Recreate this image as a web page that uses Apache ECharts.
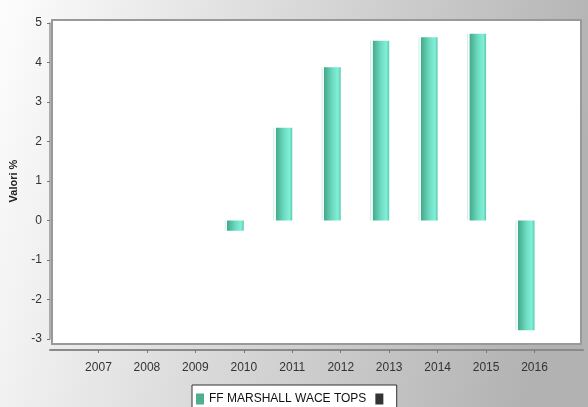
<!DOCTYPE html>
<html>
<head>
<meta charset="utf-8">
<script src="https://cdn.jsdelivr.net/npm/echarts@6/dist/echarts.min.js"></script>
<style>
  html, body { margin: 0; padding: 0; }
  #chart { width: 588px; height: 407px; }
</style>
</head>
<body>
<div id="chart"></div>
<script>
var years = ['2007', '2008', '2009', '2010', '2011', '2012', '2013', '2014', '2015', '2016'];
var values = ['-', '-', '-', -0.26, 2.35, 3.88, 4.55, 4.64, 4.73, -2.78];
var seriesName = 'FF MARSHALL WACE TOPS';
var yTicks = { min: -3, max: 5, step: 1 };

// pad one empty slot each side so the axis runs from "2006" to "2017"
var cats = [''].concat(years).concat(['']);
var barData = ['-'].concat(values).concat(['-']);
var emptyData = cats.map(function () { return '-'; });

function hideEnds(index) {
  return index > 0 && index < cats.length - 1;
}

var chart = echarts.init(document.getElementById('chart'));

var barColor = new echarts.graphic.LinearGradient(0, 0, 1, 0, [
  { offset: 0, color: '#b8e8da' },
  { offset: 0.06, color: '#f4fdfa' },
  { offset: 0.12, color: '#f4fdfa' },
  { offset: 0.14, color: '#45a98d' },
  { offset: 0.55, color: '#6cdabf' },
  { offset: 0.85, color: '#80f0d6' },
  { offset: 1, color: '#5ec9ae' }
]);

var option = {
  backgroundColor: new echarts.graphic.LinearGradient(0, 0, 1, 0.35, [
    { offset: 0, color: '#fdfdfd' },
    { offset: 1, color: '#b2b2b2' }
  ]),
  textStyle: { fontFamily: '"Liberation Sans", Arial, sans-serif' },
  animation: false,
  grid: [
    { left: 48, right: 5, top: 23, bottom: 68, show: false },
    { left: 52, right: 7, top: 20, bottom: 63, show: true, z: 0,
      backgroundColor: '#ffffff', borderColor: '#999999', borderWidth: 2 }
  ],
  xAxis: [
    {
      type: 'category',
      gridIndex: 0,
      data: cats,
      boundaryGap: false,
      position: 'bottom',
      offset: 11,
      axisLine: { onZero: false, lineStyle: { color: '#8a8a8a', width: 2 } },
      axisTick: { interval: hideEnds, length: 3, lineStyle: { color: '#777' } },
      axisLabel: { interval: hideEnds, margin: 12, fontSize: 12, color: '#333' },
      splitLine: { show: false }
    },
    { type: 'category', gridIndex: 1, show: false, data: cats }
  ],
  yAxis: [
    {
      type: 'value',
      gridIndex: 0,
      min: yTicks.min,
      max: yTicks.max,
      interval: yTicks.step,
      name: 'Valori %',
      nameLocation: 'middle',
      nameGap: 31,
      nameTextStyle: { fontSize: 11, fontWeight: 'bold', color: '#222' },
      axisLine: { show: true, onZero: false, lineStyle: { color: '#999', width: 1.5 } },
      axisTick: { show: true, length: 3, lineStyle: { color: '#777' } },
      axisLabel: { margin: 8, fontSize: 12, color: '#333' },
      splitLine: { show: false }
    },
    { type: 'value', gridIndex: 1, show: false }
  ],
  legend: {
    left: 192,
    top: 385,
    padding: [8, 5, 10, 4],
    itemWidth: 8,
    itemHeight: 11,
    itemGap: 9,
    backgroundColor: '#ffffff',
    borderColor: '#333333',
    borderWidth: 1,
    borderRadius: 0,
    textStyle: { fontSize: 12, color: '#111' },
    data: [
      { name: seriesName, icon: 'rect', itemStyle: { color: '#4fae92' } },
      { name: ' ', icon: 'rect', itemStyle: { color: '#333333' } }
    ]
  },
  series: [
    {
      name: seriesName,
      type: 'bar',
      xAxisIndex: 0,
      yAxisIndex: 0,
      barWidth: 19,
      barGap: '0%',
      itemStyle: { color: barColor },
      data: barData
    },
    {
      name: ' ',
      type: 'bar',
      xAxisIndex: 0,
      yAxisIndex: 0,
      barWidth: 19,
      barGap: '0%',
      itemStyle: { color: '#333333' },
      data: emptyData
    }
  ]
};

chart.setOption(option);

window.addEventListener('resize', function () {
  chart.resize();
});
</script>
</body>
</html>
